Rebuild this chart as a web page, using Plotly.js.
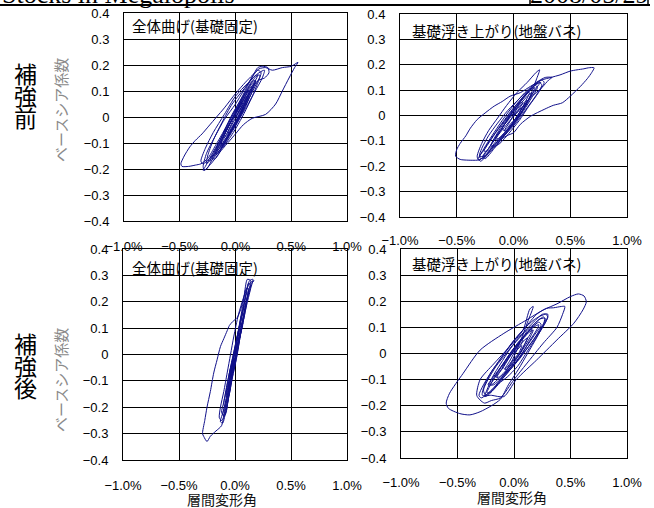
<!DOCTYPE html>
<html>
<head>
<meta charset="utf-8">
<script src="https://cdn.plot.ly/plotly-3.0.1.min.js"></script>
<style>
html,body{margin:0;padding:0;background:#fff;}
#chart{width:654px;height:508px;}
</style>
</head>
<body>
<div id="chart"></div>
<script>
// ---- data: [story drift angle (%), base shear coefficient] ----
const beforeFixed = [
[0,0],[0.03,0.02],[0.06,0.05],[0.04,0.05],[0.0,0.01],[-0.04,-0.03],[-0.07,-0.06],[-0.05,-0.06],[-0.01,-0.03],
[0.04,0.01],[0.09,0.06],[0.12,0.10],[0.10,0.10],[0.05,0.06],[-0.02,0.0],[-0.09,-0.06],[-0.13,-0.10],[-0.11,-0.11],[-0.05,-0.07],
[0.02,-0.02],[0.09,0.04],[0.15,0.10],[0.18,0.14],[0.16,0.14],[0.10,0.10],[0.02,0.04],[-0.06,-0.02],[-0.13,-0.08],[-0.19,-0.14],[-0.21,-0.16],[-0.18,-0.16],[-0.11,-0.11],
[-0.03,-0.05],[0.05,0.01],[0.12,0.07],[0.19,0.13],[0.23,0.17],[0.20,0.18],[0.10,0.12],[0.0,0.05],[-0.10,-0.01],[-0.19,-0.08],[-0.26,-0.14],[-0.29,-0.19],[-0.28,-0.205],[-0.22,-0.18],[-0.13,-0.13],
[-0.05,-0.09],[0.0,-0.065],[0.07,-0.03],[0.15,-0.005],[0.27,0.01],[0.36,0.05],[0.42,0.10],[0.48,0.15],[0.53,0.19],[0.56,0.21],
[0.50,0.195],[0.42,0.19],[0.33,0.18],[0.27,0.19],[0.21,0.185],[0.15,0.16],[0.09,0.134],[0.0,0.09],[-0.10,0.035],[-0.17,0.0],[-0.24,-0.035],[-0.30,-0.065],[-0.36,-0.09],[-0.41,-0.115],[-0.46,-0.15],[-0.49,-0.18],[-0.48,-0.19],
[-0.42,-0.19],[-0.36,-0.185],[-0.31,-0.18],[-0.25,-0.16],[-0.18,-0.11],[-0.10,-0.05],[-0.03,0.01],[0.05,0.07],[0.12,0.13],[0.17,0.17],[0.20,0.19],[0.24,0.195],[0.29,0.19],[0.30,0.17],[0.26,0.15],
[0.20,0.14],[0.12,0.09],[0.03,0.03],[-0.06,-0.03],[-0.14,-0.09],[-0.22,-0.15],[-0.27,-0.19],[-0.29,-0.205],[-0.26,-0.20],[-0.19,-0.15],
[-0.10,-0.09],[0.0,-0.03],[0.10,0.04],[0.19,0.11],[0.24,0.15],[0.26,0.18],[0.21,0.17],[0.11,0.13],[0.0,0.08],[-0.10,0.01],[-0.20,-0.06],[-0.27,-0.12],[-0.31,-0.17],[-0.29,-0.18],[-0.21,-0.15],
[-0.12,-0.12],[-0.02,-0.06],[0.06,0.0],[0.13,0.06],[0.19,0.12],[0.22,0.16],[0.18,0.16],[0.08,0.11],[-0.03,0.05],[-0.12,-0.02],[-0.20,-0.09],[-0.25,-0.15],[-0.26,-0.18],[-0.20,-0.15],
[-0.10,-0.08],[-0.02,-0.02],[0.07,0.05],[0.14,0.11],[0.19,0.15],[0.20,0.16],[0.15,0.14],[0.08,0.09],[0.0,0.03],[-0.08,-0.04],[-0.15,-0.10],[-0.21,-0.15],[-0.23,-0.17],[-0.20,-0.16],[-0.13,-0.12],
[-0.05,-0.06],[0.03,0.01],[0.10,0.07],[0.16,0.12],[0.18,0.14],[0.15,0.13],[0.08,0.08],[0.0,0.02],[-0.08,-0.05],[-0.14,-0.10],[-0.18,-0.14],[-0.16,-0.14],[-0.10,-0.10],
[-0.03,-0.05],[0.04,0.01],[0.11,0.07],[0.16,0.12],[0.17,0.13],[0.13,0.11],[0.06,0.06],[-0.02,0.0],[-0.09,-0.06],[-0.15,-0.11],[-0.17,-0.13],[-0.14,-0.12],[-0.07,-0.07],
[0.0,-0.02],[0.07,0.04],[0.13,0.09],[0.15,0.11],[0.12,0.10],[0.05,0.05],[-0.03,-0.01],[-0.10,-0.07],[-0.14,-0.11],[-0.12,-0.11],[-0.06,-0.07],
[0.01,-0.02],[0.08,0.04],[0.12,0.08],[0.10,0.08],[0.04,0.04],[-0.03,-0.01],[-0.09,-0.06],[-0.11,-0.08],[-0.08,-0.07],[-0.02,-0.03],[0.04,0.01],[0.07,0.04],[0.04,0.03],[0.0,0.0]
];

const beforeUplift = [
[0,0],[0.04,0.02],[0.08,0.05],[0.06,0.05],[0.01,0.01],[-0.04,-0.03],[-0.08,-0.06],[-0.06,-0.06],[-0.01,-0.03],
[0.05,0.01],[0.10,0.05],[0.14,0.09],[0.12,0.09],[0.05,0.05],[-0.03,0.0],[-0.10,-0.05],[-0.16,-0.09],[-0.14,-0.10],[-0.07,-0.07],
[0.01,-0.03],[0.09,0.02],[0.16,0.07],[0.21,0.11],[0.19,0.12],[0.11,0.08],[0.02,0.03],[-0.07,-0.03],[-0.15,-0.08],[-0.22,-0.13],[-0.27,-0.16],[-0.25,-0.17],[-0.17,-0.13],[-0.08,-0.08],
[0.02,-0.03],[0.12,0.03],[0.20,0.08],[0.25,0.12],[0.23,0.13],[0.14,0.10],[0.04,0.05],[-0.06,-0.01],[-0.16,-0.07],[-0.25,-0.13],[-0.31,-0.17],[-0.29,-0.18],[-0.20,-0.14],[-0.10,-0.09],
[0.0,-0.03],[0.08,0.02],[0.15,0.08],[0.20,0.14],[0.23,0.18],[0.20,0.17],[0.12,0.13],[0.03,0.09],[-0.06,0.04],[-0.14,-0.01],[-0.22,-0.06],[-0.28,-0.11],[-0.32,-0.16],[-0.31,-0.175],[-0.25,-0.16],[-0.16,-0.11],[-0.06,-0.08],
[0.0,-0.068],[0.06,-0.035],[0.15,-0.003],[0.27,0.024],[0.35,0.04],[0.43,0.05],[0.50,0.076],[0.59,0.115],[0.65,0.145],[0.69,0.17],[0.71,0.188],
[0.66,0.188],[0.62,0.184],[0.56,0.18],[0.50,0.175],[0.41,0.16],[0.33,0.15],[0.25,0.14],[0.15,0.115],[0.06,0.09],[-0.03,0.076],[-0.10,0.055],[-0.17,0.037],[-0.25,0.01],[-0.32,-0.016],[-0.38,-0.05],[-0.42,-0.08],[-0.47,-0.11],[-0.50,-0.134],[-0.51,-0.16],[-0.47,-0.173],[-0.40,-0.176],[-0.32,-0.176],[-0.29,-0.173],
[-0.22,-0.13],[-0.14,-0.08],[-0.05,-0.03],[0.05,0.02],[0.15,0.07],[0.25,0.11],[0.31,0.14],[0.34,0.15],[0.28,0.15],[0.20,0.13],[0.10,0.09],[0.0,0.04],[-0.10,-0.02],[-0.19,-0.08],[-0.26,-0.13],[-0.30,-0.165],[-0.27,-0.17],[-0.19,-0.13],
[-0.12,-0.11],[-0.04,-0.07],[0.05,-0.02],[0.14,0.04],[0.22,0.09],[0.27,0.13],[0.25,0.14],[0.16,0.11],[0.06,0.07],[-0.05,0.02],[-0.14,-0.03],[-0.22,-0.08],[-0.28,-0.13],[-0.30,-0.16],[-0.26,-0.16],
[-0.10,-0.08],[-0.01,-0.03],[0.08,0.03],[0.16,0.08],[0.22,0.12],[0.24,0.13],[0.19,0.12],[0.10,0.08],[0.0,0.03],[-0.10,-0.03],[-0.18,-0.08],[-0.24,-0.12],[-0.26,-0.14],[-0.23,-0.14],[-0.15,-0.10],
[-0.06,-0.06],[0.03,-0.01],[0.11,0.04],[0.17,0.09],[0.19,0.11],[0.15,0.10],[0.07,0.06],[-0.02,0.01],[-0.10,-0.04],[-0.17,-0.09],[-0.20,-0.12],[-0.17,-0.12],[-0.09,-0.08],
[-0.01,-0.04],[0.07,0.01],[0.13,0.06],[0.16,0.09],[0.13,0.08],[0.05,0.04],[-0.03,0.0],[-0.10,-0.05],[-0.15,-0.09],[-0.13,-0.09],[-0.06,-0.06],
[0.02,-0.02],[0.09,0.03],[0.12,0.06],[0.09,0.05],[0.02,0.02],[-0.05,-0.02],[-0.10,-0.05],[-0.08,-0.06],[-0.02,-0.03],[0.04,0.0],[0.07,0.03],[0.04,0.02],[0.0,0.0]
];

const afterFixed = [
[0,0],[0.02,0.04],[0.04,0.08],[0.03,0.08],[0.0,0.02],[-0.02,-0.04],[-0.04,-0.08],[-0.03,-0.08],[0.0,-0.03],
[0.03,0.03],[0.06,0.10],[0.08,0.15],[0.06,0.15],[0.03,0.09],[0.0,0.02],[-0.03,-0.05],[-0.06,-0.12],[-0.08,-0.16],[-0.06,-0.16],[-0.03,-0.10],
[0.01,-0.02],[0.04,0.06],[0.07,0.13],[0.10,0.20],[0.12,0.25],[0.10,0.25],[0.07,0.19],[0.04,0.11],[0.01,0.04],[-0.02,-0.04],[-0.06,-0.12],[-0.09,-0.19],[-0.11,-0.23],[-0.09,-0.23],[-0.06,-0.17],
[-0.03,-0.09],[0.01,0.0],[0.05,0.09],[0.09,0.17],[0.12,0.24],[0.14,0.28],[0.11,0.285],[0.08,0.22],[0.05,0.17],[0.02,0.14],[-0.02,0.125],[-0.05,0.11],[-0.07,0.09],[-0.10,0.06],[-0.13,0.03],[-0.16,-0.02],[-0.19,-0.07],[-0.22,-0.14],[-0.25,-0.20],[-0.27,-0.25],[-0.29,-0.30],[-0.28,-0.31],[-0.25,-0.33],
[-0.22,-0.31],[-0.17,-0.29],[-0.12,-0.27],[-0.10,-0.23],[-0.07,-0.16],[-0.04,-0.08],[-0.01,0.0],[0.03,0.08],[0.07,0.16],[0.10,0.23],[0.13,0.28],[0.16,0.285],
[0.14,0.25],[0.10,0.18],[0.06,0.10],[0.02,0.02],[-0.02,-0.06],[-0.06,-0.14],[-0.10,-0.21],[-0.13,-0.255],[-0.11,-0.26],[-0.08,-0.21],
[-0.05,-0.15],[-0.02,-0.08],[0.02,0.0],[0.05,0.08],[0.08,0.16],[0.11,0.22],[0.15,0.27],[0.17,0.28],[0.13,0.27],[0.08,0.22],[0.03,0.15],[-0.01,0.07],[-0.04,0.0],[-0.07,-0.07],[-0.10,-0.14],[-0.13,-0.20],[-0.14,-0.24],[-0.12,-0.25],[-0.08,-0.22],
[-0.05,-0.13],[-0.01,-0.04],[0.03,0.05],[0.07,0.13],[0.11,0.21],[0.14,0.26],[0.12,0.27],[0.09,0.21],[0.05,0.13],[0.01,0.05],[-0.03,-0.03],[-0.07,-0.11],[-0.10,-0.18],[-0.12,-0.22],[-0.10,-0.23],[-0.07,-0.17],
[-0.04,-0.09],[0.0,-0.01],[0.04,0.07],[0.08,0.15],[0.11,0.21],[0.12,0.24],[0.10,0.23],[0.07,0.17],[0.03,0.09],[-0.01,0.01],[-0.05,-0.07],[-0.08,-0.14],[-0.10,-0.19],[-0.08,-0.20],[-0.05,-0.14],
[-0.02,-0.06],[0.02,0.02],[0.06,0.10],[0.09,0.16],[0.10,0.19],[0.08,0.18],[0.05,0.12],[0.01,0.04],[-0.03,-0.04],[-0.06,-0.11],[-0.08,-0.15],[-0.06,-0.15],[-0.03,-0.09],
[0.0,-0.02],[0.04,0.06],[0.07,0.12],[0.06,0.12],[0.02,0.05],[-0.02,-0.02],[-0.05,-0.08],[-0.03,-0.08],[0.0,-0.02],[0.03,0.04],[0.02,0.04],[0.0,0.0]
];

const afterUplift = [
[0,0],[0.04,0.02],[0.08,0.05],[0.06,0.05],[0.01,0.01],[-0.04,-0.03],[-0.08,-0.06],[-0.06,-0.06],[-0.01,-0.03],
[0.05,0.0],[0.11,0.05],[0.16,0.09],[0.13,0.09],[0.06,0.05],[-0.02,0.0],[-0.09,-0.05],[-0.15,-0.09],[-0.13,-0.10],[-0.06,-0.07],
[0.02,-0.03],[0.10,0.02],[0.18,0.07],[0.24,0.11],[0.22,0.12],[0.14,0.09],[0.05,0.05],[-0.05,-0.01],[-0.13,-0.06],[-0.20,-0.10],[-0.23,-0.12],[-0.20,-0.12],[-0.12,-0.09],
[-0.02,-0.05],[0.08,0.0],[0.17,0.05],[0.24,0.10],[0.28,0.13],[0.26,0.14],[0.17,0.11],[0.07,0.07],[-0.03,0.02],[-0.12,-0.04],[-0.19,-0.09],[-0.24,-0.14],[-0.26,-0.165],[-0.23,-0.16],[-0.15,-0.12],
[-0.05,-0.07],[0.05,-0.02],[0.15,0.04],[0.25,0.10],[0.30,0.14],[0.28,0.15],[0.18,0.13],[0.08,0.09],[-0.02,0.04],[-0.12,-0.02],[-0.20,-0.07],[-0.27,-0.12],[-0.31,-0.16],[-0.29,-0.17],[-0.20,-0.14],
[-0.12,-0.10],[-0.02,-0.03],[0.06,0.05],[0.12,0.12],[0.17,0.18],[0.14,0.17],[0.08,0.09],[-0.04,0.026],[-0.18,-0.04],[-0.30,-0.10],[-0.33,-0.16],[-0.30,-0.178],[-0.26,-0.19],[-0.20,-0.18],[-0.12,-0.17],
[0.0,-0.10],[0.11,-0.04],[0.26,0.04],[0.38,0.10],[0.43,0.15],[0.45,0.18],[0.42,0.18],[0.35,0.175],[0.29,0.173],[0.20,0.15],[0.10,0.10],[0.0,0.05],[-0.10,-0.01],[-0.20,-0.07],[-0.26,-0.12],[-0.28,-0.16],
[-0.20,-0.16],[-0.09,-0.165],[0.02,-0.10],[0.20,-0.025],[0.38,0.052],[0.53,0.116],[0.61,0.167],[0.64,0.198],[0.62,0.22],[0.57,0.228],[0.50,0.218],[0.38,0.19],[0.26,0.167],[0.11,0.128],[-0.09,0.077],[-0.30,0.013],[-0.45,-0.076],[-0.57,-0.152],[-0.60,-0.19],[-0.58,-0.21],[-0.48,-0.23],[-0.39,-0.235],[-0.30,-0.223],[-0.20,-0.20],[-0.12,-0.175],
[-0.05,-0.12],[0.04,-0.06],[0.12,0.0],[0.20,0.06],[0.26,0.11],[0.27,0.135],[0.22,0.13],[0.12,0.08],[0.02,0.03],[-0.08,-0.03],[-0.16,-0.08],[-0.22,-0.13],[-0.24,-0.15],[-0.21,-0.15],[-0.12,-0.11],
[-0.06,-0.09],[0.03,-0.05],[0.12,0.01],[0.21,0.07],[0.28,0.12],[0.30,0.15],[0.25,0.15],[0.15,0.11],[0.04,0.06],[-0.07,0.0],[-0.16,-0.05],[-0.23,-0.10],[-0.27,-0.14],[-0.25,-0.16],[-0.17,-0.13],
[-0.03,-0.06],[0.06,-0.01],[0.14,0.05],[0.20,0.09],[0.22,0.11],[0.17,0.10],[0.08,0.06],[-0.02,0.01],[-0.11,-0.05],[-0.18,-0.10],[-0.21,-0.12],[-0.18,-0.12],[-0.10,-0.09],
[-0.01,-0.04],[0.07,0.01],[0.14,0.06],[0.17,0.09],[0.13,0.08],[0.05,0.04],[-0.04,-0.01],[-0.11,-0.06],[-0.16,-0.09],[-0.13,-0.09],[-0.06,-0.06],
[0.02,-0.02],[0.09,0.03],[0.12,0.06],[0.09,0.05],[0.02,0.02],[-0.05,-0.02],[-0.10,-0.05],[-0.08,-0.06],[-0.02,-0.03],[0.04,0.0],[0.07,0.03],[0.04,0.02],[0.0,0.0]
];

const panelTitles = ['全体曲げ(基礎固定)', '基礎浮き上がり(地盤バネ)', '全体曲げ(基礎固定)', '基礎浮き上がり(地盤バネ)'];
const rowLabels = ['補強前', '補強後'];
const yAxisTitle = 'ベースシア係数';
const xAxisTitle = '層間変形角';
const headerLeft = 'Stocks in Megalopolis';
const headerRight = '2008/05/29';
const xRange = [-1, 1];
const yRange = [-0.4, 0.4];

// ---- layout helpers (pixel -> paper fraction) ----
const W = 654, H = 508;
const px = x => x / W;
const py = y => 1 - y / H;

const series = [beforeFixed, beforeUplift, afterFixed, afterUplift];
const boxes = [
  {l:124, r:347, t:13, b:221, xs:13},
  {l:400, r:627, t:14, b:217, xs:11},
  {l:123, r:347, t:249, b:460, xs:13},
  {l:401, r:627, t:249, b:458, xs:12}
];
const lineColor = '#10108a';
const tickFont = {family:'Liberation Sans, Arial, sans-serif', size:13, color:'#000'};
const jpFont = 'Noto Sans CJK JP, sans-serif';

const traces = series.map((pts, i) => ({
  type:'scatter', mode:'lines',
  x: pts.map(p => p[0]), y: pts.map(p => p[1]),
  xaxis: i === 0 ? 'x' : 'x' + (i + 1),
  yaxis: i === 0 ? 'y' : 'y' + (i + 1),
  line:{color:lineColor, width:1, shape:'spline', smoothing:0.7},
  hoverinfo:'skip', showlegend:false
}));

const layout = {
  width:W, height:H,
  margin:{l:0, r:0, t:0, b:0},
  paper_bgcolor:'#fff', plot_bgcolor:'#fff',
  showlegend:false,
  annotations:[], shapes:[]
};

boxes.forEach((b, i) => {
  const k = i === 0 ? '' : String(i + 1);
  layout['xaxis' + k] = {
    domain:[px(b.l), px(b.r)], anchor:'y' + k, range:xRange,
    tick0:0, dtick:0.5, tickformat:'.1f', ticksuffix:'%',
    showgrid:true, gridcolor:'#000', gridwidth:1,
    showline:true, linecolor:'#000', linewidth:1, mirror:true,
    zeroline:false, ticks:'', ticklabelstandoff:b.xs, tickfont:tickFont,
    fixedrange:true
  };
  layout['yaxis' + k] = {
    domain:[py(b.b), py(b.t)], anchor:'x' + k, range:yRange,
    tick0:0, dtick:0.1,
    showgrid:true, gridcolor:'#000', gridwidth:1,
    showline:true, linecolor:'#000', linewidth:1, mirror:true,
    zeroline:false, ticks:'', ticklabelstandoff:11, tickfont:tickFont,
    fixedrange:true
  };
});

// panel titles
const titlePos = [[130, 25], [410, 30], [130, 267], [410, 263]];
panelTitles.forEach((t, i) => {
  layout.annotations.push({
    xref:'paper', yref:'paper', x:px(titlePos[i][0]), y:py(titlePos[i][1]),
    xanchor:'left', yanchor:'middle', showarrow:false, text:t,
    font:{family:jpFont, size:14.5, color:'#000'}
  });
});

// row labels (stacked vertically, one character per line)
const rowCenters = [[73, 95, 117], [343, 365, 387]];
rowLabels.forEach((lab, r) => {
  Array.from(lab).forEach((ch, j) => {
    layout.annotations.push({
      xref:'paper', yref:'paper', x:px(25), y:py(rowCenters[r][j]),
      xanchor:'center', yanchor:'middle', showarrow:false, text:ch, borderpad:0,
      font:{family:jpFont, size:23, color:'#000'}
    });
  });
});

// y-axis titles
[110, 380].forEach(cy => {
  layout.annotations.push({
    xref:'paper', yref:'paper', x:px(60), y:py(cy),
    xanchor:'center', yanchor:'middle', showarrow:false, text:yAxisTitle,
    textangle:-90, font:{family:jpFont, size:15, color:'#8a8a8a'}
  });
});

// x-axis titles
[[222, 499], [512, 497]].forEach(p => {
  layout.annotations.push({
    xref:'paper', yref:'paper', x:px(p[0]), y:py(p[1]),
    xanchor:'center', yanchor:'middle', showarrow:false, text:xAxisTitle, borderpad:0,
    font:{family:jpFont, size:14, color:'#111'}
  });
});

// header
layout.annotations.push({
  xref:'paper', yref:'paper', x:px(1), y:py(10), xanchor:'left', yanchor:'bottom',
  showarrow:false, text:headerLeft, borderpad:0,
  font:{family:'Liberation Serif, Times New Roman, serif', size:26, color:'#000'}
});
layout.annotations.push({
  xref:'paper', yref:'paper', x:px(589), y:py(10), xanchor:'center', yanchor:'bottom',
  showarrow:false, text:headerRight, borderpad:0,
  font:{family:'Liberation Serif, Times New Roman, serif', size:26, color:'#000'}
});
layout.shapes.push({type:'line', xref:'paper', yref:'paper', x0:0, x1:px(650), y0:py(5), y1:py(5), line:{color:'#000', width:2}});
[530, 648].forEach(x => {
  layout.shapes.push({type:'line', xref:'paper', yref:'paper', x0:px(x), x1:px(x), y0:py(5), y1:1, line:{color:'#000', width:1.5}});
});

Plotly.newPlot('chart', traces, layout, {staticPlot:true, displayModeBar:false});
</script>
</body>
</html>
